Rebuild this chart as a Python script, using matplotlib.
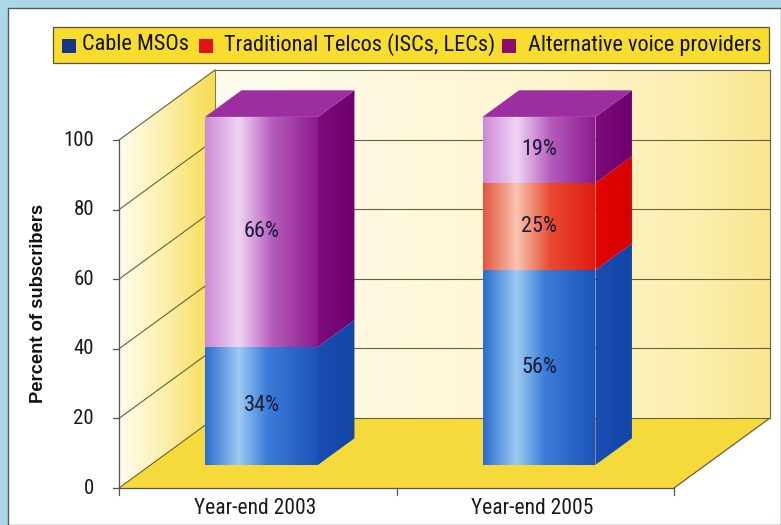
import numpy as np
import matplotlib
matplotlib.use("Agg")
import matplotlib.pyplot as plt
from matplotlib.patches import Polygon, Rectangle
from matplotlib.colors import LinearSegmentedColormap
from matplotlib import font_manager

# ---------------- data ----------------
categories = ["Year-end 2003", "Year-end 2005"]
series_names = ["Cable MSOs", "Traditional Telcos (ISCs, LECs)", "Alternative voice providers"]
cable_msos = [34, 56]
traditional_telcos = [0, 25]
alternative_voice = [66, 19]
y_ticks = [0, 20, 40, 60, 80, 100]
y_label = "Percent of subscribers"

# ---------------- fonts ----------------
def pick(fams):
    for f in fams:
        try:
            font_manager.findfont(font_manager.FontProperties(family=f), fallback_to_default=False)
            return f
        except Exception:
            pass
    return "DejaVu Sans"

NARROW = pick(["Liberation Sans Narrow", "Roboto Condensed", "Open Sans Condensed", "Liberation Sans"])
BOLD = pick(["Liberation Sans", "DejaVu Sans"])

# ---------------- styles ----------------
W, H = 781, 525
fig = plt.figure(figsize=(W / 100, H / 100), dpi=100)
fig.patch.set_facecolor("#a9d8e7")

def fx(px):
    return px / W

def fy(py):
    return 1 - py / H

# white panel
fig.patches.append(Rectangle((fx(8), 0), 1 - fx(8), fy(8), transform=fig.transFigure,
                             facecolor="white", edgecolor="#4d5b60", lw=1.0, zorder=0))

ax = fig.add_axes([0, 0, 1, 1])
ax.set_zorder(2)
ax.set_axis_off()
ax.patch.set_alpha(0)

XPX = 277.5   # px per category unit
YPX = 3.48    # px per percent
X0, Y0 = 119, 488
ax.set_xlim(-X0 / XPX, (W - X0) / XPX)
ax.set_ylim(-(H - Y0) / YPX, Y0 / YPX)

DX, DY = 96 / XPX, 70 / YPX   # depth vector
XMAX = len(categories)

def grad_poly(verts, stops, zorder, vertical=False):
    poly = Polygon(verts, closed=True, facecolor="none", edgecolor="none", zorder=zorder)
    ax.add_patch(poly)
    xs = [v[0] for v in verts]
    ys = [v[1] for v in verts]
    cmap = LinearSegmentedColormap.from_list("g", stops)
    data = np.linspace(0, 1, 256).reshape(1, -1)
    if vertical:
        data = data.T
    im = ax.imshow(data, cmap=cmap, extent=(min(xs), max(xs), min(ys), max(ys)),
                   aspect="auto", origin="lower", zorder=zorder, interpolation="bilinear")
    im.set_clip_path(poly)
    return poly

def off(p, f):
    return (p[0] + f * DX, p[1] + f * DY)

# walls
back = [off((0, 0), 1), off((XMAX, 0), 1), off((XMAX, 100), 1), off((0, 100), 1)]
grad_poly(back, [(0, "#fffcef"), (0.55, "#fef6d2"), (0.85, "#fcefb2"), (1, "#f9e690")], 1)
left = [(0, 0), off((0, 0), 1), off((0, 100), 1), (0, 100)]
grad_poly(left, [(0, "#fffdf0"), (0.5, "#fbefa8"), (1, "#f6dc4c")], 1)
floor = [(0, 0), (XMAX, 0), off((XMAX, 0), 1), off((0, 0), 1)]
ax.add_patch(Polygon(floor, closed=True, facecolor="#f6da3c", edgecolor="none", zorder=1))

GC = "#6e5f35"
for v in y_ticks:
    a, b = (0, v), off((0, v), 1)
    ax.plot([a[0], b[0]], [a[1], b[1]], color=GC, lw=0.8, zorder=2)
    c = off((XMAX, v), 1)
    ax.plot([b[0], c[0]], [b[1], c[1]], color=GC, lw=0.8, zorder=2)
# back wall right edge and floor edges
p1, p2 = off((XMAX, 0), 1), off((XMAX, 100), 1)
ax.plot([p1[0], p2[0]], [p1[1], p2[1]], color=GC, lw=0.8, zorder=2)
ax.plot([XMAX, p1[0]], [0, p1[1]], color=GC, lw=0.9, zorder=2)
p3 = off((0, 100), 1)
ax.plot([p3[0], p3[0]], [off((0, 0), 1)[1], p3[1]], color=GC, lw=0.6, zorder=2)

# axes lines + ticks
AC = "#555555"
ax.plot([0, 0], [0, 100], color=AC, lw=0.9, zorder=3)
ax.plot([0, XMAX], [0, 0], color=AC, lw=0.9, zorder=3)
for v in y_ticks:
    ax.plot([-6 / XPX, 0], [v, v], color=AC, lw=0.9, zorder=3)
    ax.annotate(str(v), (0, v), xytext=(-25, 0), textcoords="offset pixels",
                ha="right", va="center", fontsize=15, family=NARROW, color="#1a1a1a")
for i in range(XMAX + 1):
    ax.plot([i, i], [0, -7 / YPX], color=AC, lw=0.9, zorder=3)
for i, cat in enumerate(categories):
    ax.annotate(cat, (i + 0.5, 0), xytext=(-3, -21), textcoords="offset pixels",
                ha="center", va="center", fontsize=15.5, family=NARROW, color="#1a1a1a")

fig.text(fx(39), fy(303), y_label, rotation=90, ha="center", va="center",
         fontsize=13.2, fontweight="bold", family=BOLD, color="#111111", zorder=5)

# ---------------- bars ----------------
F0, F1 = 0.33, 0.71
BW = 0.407
SHIFT = 0.0135
styles = [
    dict(front=[(0, "#2a6cd0"), (0.3, "#9ccaf2"), (0.55, "#3c7cd8"), (1, "#1c52ba")],
         side=[(0, "#1a4cb2"), (1, "#1446a8")], top="#2a60c0"),
    dict(front=[(0, "#e4553e"), (0.3, "#f8c4b0"), (0.6, "#e84a30"), (1, "#de1c10")],
         side=[(0, "#e20606"), (1, "#d80000")], top="#e83020"),
    dict(front=[(0, "#cc8ad8"), (0.3, "#f0d4f4"), (0.6, "#b45cbc"), (1, "#8c1a8c")],
         side=[(0, "#7c0c7a"), (1, "#6e006e")], top="#9c2ea2"),
]
stack = [cable_msos, traditional_telcos, alternative_voice]

for i in range(len(categories)):
    c = i + 0.5 + SHIFT - F0 * DX
    xl, xr = c - BW / 2, c + BW / 2
    base = 0
    segs = []
    for s, vals in enumerate(stack):
        v = vals[i]
        if v > 0:
            segs.append((s, base, base + v))
        base += v
    for k, (s, b, t) in enumerate(segs):
        st = styles[s]
        front = [off((xl, b), F0), off((xr, b), F0), off((xr, t), F0), off((xl, t), F0)]
        grad_poly(front, st["front"], 5)
        side = [off((xr, b), F0), off((xr, b), F1), off((xr, t), F1), off((xr, t), F0)]
        grad_poly(side, st["side"], 5)
        if k == len(segs) - 1:
            top = [off((xl, t), F0), off((xr, t), F0), off((xr, t), F1), off((xl, t), F1)]
            ax.add_patch(Polygon(top, closed=True, facecolor=st["top"], edgecolor="none", zorder=5))
        cx, cy = off(((xl + xr) / 2, (b + t) / 2), F0)
        ax.text(cx, cy, f"{t - b}%", ha="center", va="center", fontsize=16,
                family=NARROW, color="#1c1a3a", zorder=7)

# ---------------- legend ----------------
fig.patches.append(Rectangle((fx(53), fy(63)), fx(769) - fx(53), fy(27) - fy(63),
                             transform=fig.transFigure, facecolor="#f8dc2e",
                             edgecolor="#5c5430", lw=0.9, zorder=10))
leg_sq = [62, 199, 502]
leg_tx = [82, 224, 528]
leg_col = ["#17368a", "#e0101e", "#8c0c6c"]
for name, sx, tx, col in zip(series_names, leg_sq, leg_tx, leg_col):
    fig.patches.append(Rectangle((fx(sx), fy(53)), 14 / W, 14 / H, transform=fig.transFigure,
                                 facecolor=col, edgecolor="none", zorder=11))
    fig.text(fx(tx), fy(45), name, ha="left", va="center", fontsize=16,
             family=NARROW, color="#111111", zorder=12)

fig.savefig("out.png", dpi=100)
